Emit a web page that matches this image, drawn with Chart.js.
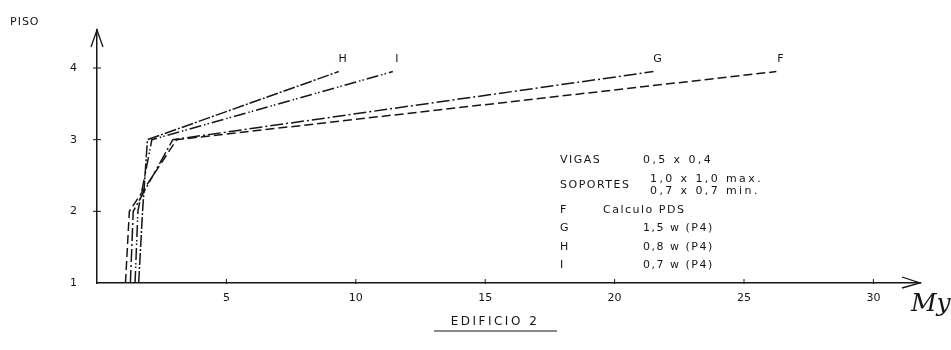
<!DOCTYPE html>
<html>
<head>
<meta charset="utf-8">
<script src="https://cdn.jsdelivr.net/npm/chart.js@4.4.1/dist/chart.umd.min.js"></script>
<style>
  html, body { margin: 0; padding: 0; background: #fff; }
</style>
</head>
<body>
<canvas id="edificioChart" width="951" height="350"></canvas>
<script>
// PISO levels and the My values (F, G, H, I)
const floors = [1, 2, 3, 3.95];
const seriesF = [1.10, 1.25, 3.08, 26.25];
const seriesG = [1.29, 1.40, 2.93, 21.5];
const seriesI = [1.47, 1.58, 2.12, 11.43];
const seriesH = [1.61, 1.76, 1.95, 9.34];
const curveNames = ['F', 'G', 'H', 'I'];

const xTicks = [5, 10, 15, 20, 25, 30];
const yTicks = [1, 2, 3, 4];

const legendKeys = ['VIGAS', 'SOPORTES', 'F', 'G', 'H', 'I'];
const legendTexts = ['0,5 x 0,4', '1,0 x 1,0 max.', 'Calculo PDS', '1,5 w (P4)', '0,8 w (P4)', '0,7 w (P4)'];
const legendExtra = '0,7 x 0,7 min.';

const INK = '#161616';
const FONT = '"DejaVu Sans", sans-serif';

function toPoints(values) {
  return values.map((v, i) => ({ x: v, y: floors[i] }));
}

const curves = {
  F: { data: seriesF, dash: [9, 4] },
  G: { data: seriesG, dash: [13, 3, 2, 3] },
  H: { data: seriesH, dash: [12, 2, 2, 2] },
  I: { data: seriesI, dash: [12, 3, 1.5, 2, 1.5, 3] }
};

// extra drawing: arrows, tick marks, curve letters, legend block, titles
const sketchPlugin = {
  id: 'sketch',
  afterDraw(chart) {
    const ctx = chart.ctx;
    const xs = chart.scales.x, ys = chart.scales.y;
    const left = chart.chartArea.left, bottom = chart.chartArea.bottom;
    const top = chart.chartArea.top, right = chart.chartArea.right;
    ctx.save();
    ctx.strokeStyle = INK;
    ctx.fillStyle = INK;
    ctx.lineWidth = 1.3;

    // arrow heads
    ctx.beginPath();
    ctx.moveTo(left - 6, top + 17); ctx.lineTo(left, top); ctx.lineTo(left + 6, top + 17);
    ctx.moveTo(right - 18, bottom - 6); ctx.lineTo(right, bottom); ctx.lineTo(right - 18, bottom + 5);
    ctx.stroke();

    // small tick marks on the axes
    ctx.lineWidth = 1;
    ctx.beginPath();
    xTicks.forEach(v => {
      const px = xs.getPixelForValue(v);
      ctx.moveTo(px, bottom - 4); ctx.lineTo(px, bottom + 1);
    });
    yTicks.slice(1).forEach(v => {
      const py = ys.getPixelForValue(v);
      ctx.moveTo(left - 4, py); ctx.lineTo(left + 4, py);
    });
    ctx.stroke();

    // curve letters at the top end of every line
    ctx.font = '11px ' + FONT;
    ctx.textAlign = 'center';
    ctx.textBaseline = 'middle';
    chart.data.datasets.forEach(ds => {
      const last = ds.data[ds.data.length - 1];
      ctx.fillText(ds.label, xs.getPixelForValue(last.x) + 4, ys.getPixelForValue(last.y) - 12);
    });

    // PISO
    ctx.textAlign = 'left';
    ctx.letterSpacing = '1px';
    ctx.fillText('PISO', 10, 22);

    // legend block
    ctx.font = '11px ' + FONT;
    ctx.letterSpacing = '1.5px';
    const rowY = [160, 185, 210, 228, 247, 265];
    legendKeys.forEach((k, i) => ctx.fillText(k, 560, rowY[i]));
    ctx.letterSpacing = '2.4px';
    ctx.fillText(legendTexts[0], 643, rowY[0]);
    ctx.fillText(legendTexts[1], 650, rowY[1] - 6);
    ctx.fillText(legendExtra, 650, rowY[1] + 6);
    ctx.letterSpacing = '1.5px';
    ctx.fillText(legendTexts[2], 603, rowY[2]);
    for (let i = 3; i < legendTexts.length; i++) {
      ctx.fillText(legendTexts[i], 643, rowY[i]);
    }

    // title under the axis
    ctx.font = '12px ' + FONT;
    ctx.letterSpacing = '2.5px';
    ctx.textAlign = 'center';
    ctx.fillText('EDIFICIO 2', 495, 322);
    ctx.lineWidth = 1.2;
    ctx.beginPath();
    ctx.moveTo(434, 331); ctx.lineTo(557, 331);
    ctx.stroke();

    // handwritten axis name
    ctx.letterSpacing = '0px';
    ctx.font = 'italic 25px "DejaVu Serif", serif';
    ctx.textAlign = 'left';
    ctx.fillText('My', 911, 304);
    ctx.restore();
  }
};

new Chart(document.getElementById('edificioChart'), {
  type: 'scatter',
  data: {
    datasets: curveNames.map(name => ({
      label: name,
      data: toPoints(curves[name].data),
      showLine: true,
      borderColor: INK,
      borderWidth: 1.5,
      borderDash: curves[name].dash,
      pointRadius: 0,
      fill: false,
      tension: 0
    }))
  },
  options: {
    responsive: false,
    animation: false,
    devicePixelRatio: 1,
    layout: { padding: { top: 30, right: 31, left: 0, bottom: 0 } },
    plugins: { legend: { display: false }, tooltip: { enabled: false } },
    scales: {
      x: {
        type: 'linear',
        min: 0,
        max: 31.8,
        afterBuildTicks: scale => { scale.ticks = xTicks.map(v => ({ value: v })); },
        afterFit: scale => { scale.height = 67; },
        grid: { display: false, drawTicks: false },
        border: { color: INK, width: 1.5 },
        ticks: { color: INK, padding: 9, font: { family: FONT, size: 11 } }
      },
      y: {
        type: 'linear',
        min: 1,
        max: 4.53,
        afterBuildTicks: scale => { scale.ticks = yTicks.map(v => ({ value: v })); },
        afterFit: scale => { scale.width = 97; },
        grid: { display: false, drawTicks: false },
        border: { color: INK, width: 1.5 },
        ticks: { color: INK, padding: 20, font: { family: FONT, size: 11 } }
      }
    }
  },
  plugins: [sketchPlugin]
});
</script>
</body>
</html>
